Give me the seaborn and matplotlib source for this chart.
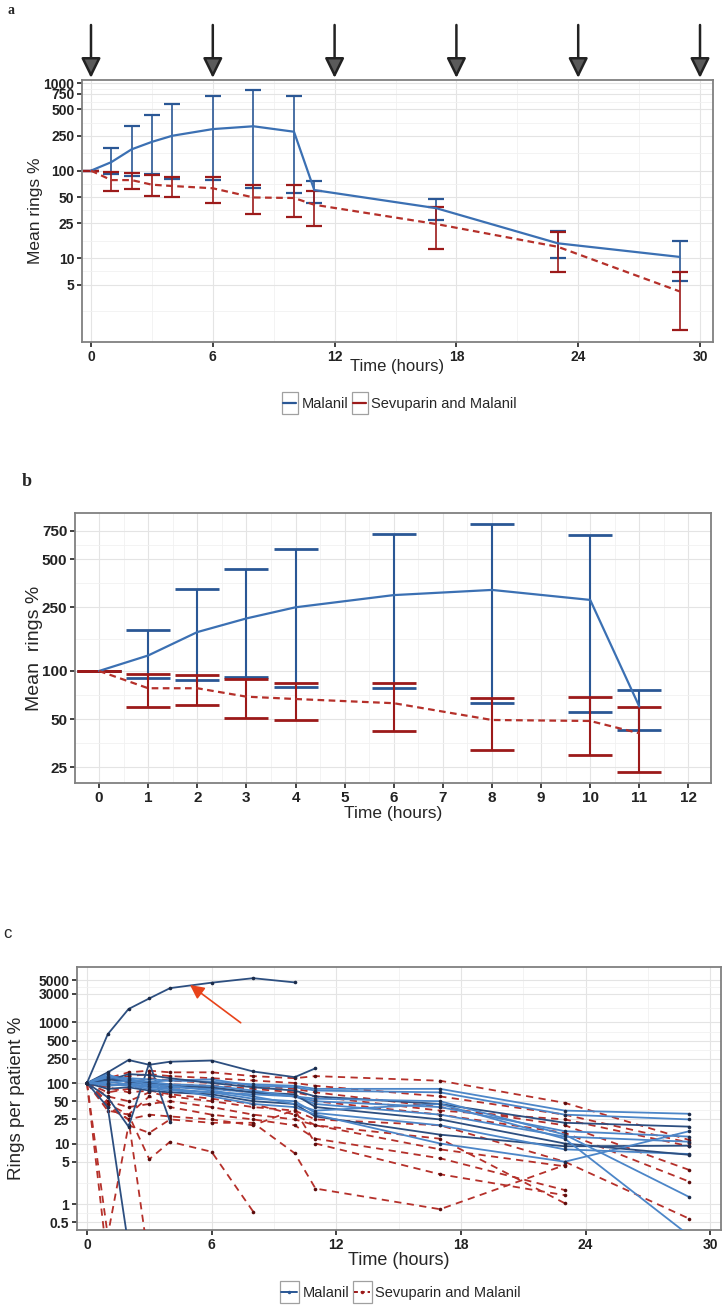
import matplotlib
matplotlib.use("Agg")
import matplotlib.pyplot as plt
from matplotlib import font_manager
from matplotlib.lines import Line2D
from matplotlib.patches import Rectangle
from matplotlib.legend_handler import HandlerLine2D
from matplotlib.ticker import NullFormatter
import numpy as np
import pandas as pd
import seaborn as sns

# sampling times (hours)
hours = [0, 1, 2, 3, 4, 6, 8, 10, 11, 17, 23, 29]

# mean rings % and error bar ends
malanil_mean = [100, 125, 175, 213, 250, 298, 321, 278, 60, 37.3, 14.8, 10.35]
malanil_lo = [100, 90.8, 87.9, 92.1, 79.4, 78, 62.9, 55.7, 42.8, 27.3, 10.1, 5.44]
malanil_hi = [100, 180, 324, 436, 576, 718, 826, 711, 76, 47.7, 20.6, 15.8]
sevu_mean = [100, 78, 78, 69.1, 66.8, 62.9, 49.4, 48.7, 40.8, 24.6, 13.5, 4.18]
sevu_lo = [100, 59.3, 61.3, 51.1, 49.4, 42.2, 32.1, 29.8, 23.5, 12.6, 6.9, 1.51]
sevu_hi = [100, 95.3, 94.4, 88.7, 84.5, 84.5, 68.1, 69.1, 59.3, 38.9, 20.0, 7.03]

# panel c: rings per patient %
malanil_patient_hours = [
    [0, 1, 2, 3, 4, 6, 8, 10],
    [0, 1, 2, 3, 4, 6, 8, 10, 11],
    [0, 1, 2, 3, 4],
    [0, 1, 2],
] + [hours] * 11
malanil_patient_values = [
    [100, 640, 1670, 2500, 3700, 4550, 5400, 4600],
    [100, 150, 240, 200, 225, 235, 155, 125, 175],
    [100, 58, 19, 215, 23],
    [100, 40, 0.2],
    [100, 130, 120, 115, 110, 105, 95, 90, 80, 80, 35, 31],
    [100, 120, 110, 105, 110, 115, 90, 85, 75, 70, 30, 25],
    [100, 110, 140, 135, 120, 100, 85, 75, 60, 45, 22, 19],
    [100, 140, 100, 95, 85, 80, 70, 60, 50, 40, 16, 13],
    [100, 90, 95, 85, 80, 70, 65, 60, 45, 30, 13, 10.7],
    [100, 80, 85, 75, 70, 65, 50, 45, 28, 14, 9, 9.2],
    [100, 105, 95, 90, 80, 60, 45, 40, 30, 10, 5, 16],
    [100, 95, 90, 80, 75, 70, 55, 50, 32, 20, 8, 6.7],
    [100, 115, 105, 100, 90, 85, 70, 65, 40, 25, 10, 6.5],
    [100, 125, 115, 105, 95, 90, 75, 60, 55, 50, 14, 1.3],
    [100, 100, 110, 95, 90, 75, 60, 45, 35, 45, 12, 0.3],
]
sevu_patient_hours = [
    hours, hours, hours, hours, hours, hours,
    hours[:11], hours[:11], hours[:11], hours[:11],
    [0, 1, 2, 3, 4, 6, 8],
    [0, 1],
    [0, 1, 2, 3],
    hours[:11],
]
sevu_patient_values = [
    [100, 120, 150, 160, 150, 150, 130, 120, 130, 109, 47, 11.4],
    [100, 110, 130, 140, 130, 120, 110, 100, 90, 60, 30, 10.3],
    [100, 90, 100, 120, 110, 100, 90, 80, 70, 40, 20, 3.65],
    [100, 70, 80, 90, 85, 80, 70, 60, 50, 30, 15, 2.34],
    [100, 60, 50, 70, 60, 50, 40, 35, 25, 20, 5, 0.57],
    [100, 130, 110, 100, 95, 90, 80, 70, 60, 35, 25, 9],
    [100, 50, 40, 45, 50, 40, 30, 25, 20, 8, 4.2],
    [100, 45, 30, 60, 40, 30, 25, 20, 12, 5.7, 1.7],
    [100, 40, 25, 30, 28, 25, 20, 36, 10, 3.1, 1.4],
    [100, 85, 70, 75, 65, 55, 45, 30, 20, 12, 1.03],
    [100, 35, 30, 5.5, 10.7, 7.3, 0.75],
    [100, 0.1],
    [100, 45, 25, 0.1],
    [100, 0.3, 20, 15, 25, 22, 22, 6.9, 1.8, 0.82, 4.4],
]

arrow_hours = [0, 6, 12, 18, 24, 30]
c_arrow_from = (7.4, 990)
c_arrow_to = (4.96, 4170)

yticks_a = [5, 10, 25, 50, 100, 250, 500, 750, 1000]
yticks_b = [25, 50, 100, 250, 500, 750]
yticks_c = [0.5, 1, 5, 10, 25, 50, 100, 250, 500, 1000, 3000, 5000]
ylabels_c = ['0.5', '1', '5', '10', '25', '50', '100', '250', '500', '1000', '3000', '5000']
xticks_a = [0, 6, 12, 18, 24, 30]
xticks_b = list(range(13))

groups = ['Malanil', 'Sevuparin and Malanil']

sns.set_theme(style="white")
names = {f.name for f in font_manager.fontManager.ttflist}
NARROW = 'Liberation Sans Narrow' if 'Liberation Sans Narrow' in names else 'Liberation Sans'
plt.rcParams['font.family'] = ['Liberation Sans', 'DejaVu Sans']

BLUE = '#3b70b3'
BLUE_BAR = '#2a5795'
RED = '#b5302a'
RED_BAR = '#9c1a1a'

W, H = 724, 1311
fig = plt.figure(figsize=(W / 100, H / 100), dpi=100)


def add_ax(l, t, r, b):
    return fig.add_axes([l / W, 1 - b / H, (r - l) / W, (b - t) / H])


ax_a = add_ax(82, 80, 713, 342)
ax_b = add_ax(75, 513, 711, 783)
ax_c = add_ax(77, 967, 721, 1230)


def style_axes(ax, yticks, ylabels, xticks, xminor, ylim, xlim, extra_minor=()):
    ax.set_yscale('log')
    ax.set_xlim(*xlim)
    ax.set_ylim(*ylim)
    ax.set_yticks(yticks, ylabels, fontsize=10, fontweight='bold', color='#222222')
    ax.set_xticks(xticks, [str(x) for x in xticks], fontsize=10, fontweight='bold', color='#222222')
    yt = np.array(yticks, dtype=float)
    ax.set_yticks(list(np.sqrt(yt[:-1] * yt[1:])) + list(extra_minor), minor=True)
    ax.yaxis.set_minor_formatter(NullFormatter())
    ax.set_xticks(xminor, minor=True)
    ax.tick_params(which='minor', length=0)
    ax.tick_params(which='major', length=3.5, width=1.3, color='#333333', direction='out', pad=2,
                   left=True, bottom=True)
    ax.grid(which='major', color='#e4e4e4', lw=0.8)
    ax.grid(which='minor', color='#f1f1f1', lw=0.6)
    ax.set_axisbelow(True)
    for sp in ax.spines.values():
        sp.set_visible(True)
        sp.set_color('#808080')
        sp.set_linewidth(1.3)
    ax.set_facecolor('white')


def draw_means(ax, max_hour, capsize, elw, clw):
    df = pd.DataFrame({
        'hours': hours * 2,
        'rings': malanil_mean + sevu_mean,
        'lo': malanil_lo + sevu_lo,
        'hi': malanil_hi + sevu_hi,
        'group': [groups[0]] * len(hours) + [groups[1]] * len(hours),
    })
    df = df[df['hours'] <= max_hour]
    for g, c in zip(groups, [BLUE_BAR, RED_BAR]):
        d = df[df['group'] == g]
        ax.errorbar(d['hours'], d['rings'], yerr=[d['rings'] - d['lo'], d['hi'] - d['rings']],
                    fmt='none', ecolor=c, elinewidth=elw, capsize=capsize, capthick=clw, zorder=3)
    sns.lineplot(data=df, x='hours', y='rings', hue='group', style='group',
                 palette={groups[0]: BLUE, groups[1]: RED},
                 dashes={groups[0]: '', groups[1]: (3, 2)},
                 lw=1.6, errorbar=None, legend=False, ax=ax, zorder=4)
    ax.set_xlabel('')
    ax.set_ylabel('')


class BoxedLine(HandlerLine2D):
    # ggplot-like key: line inside a small grey box
    def create_artists(self, legend, orig_handle, xdescent, ydescent, width, height, fontsize, trans):
        arts = super().create_artists(legend, orig_handle, xdescent, ydescent, width, height, fontsize, trans)
        box = Rectangle((-xdescent - 1, -ydescent - 4), width + 2, height + 8,
                        fc='white', ec='#a0a0a0', lw=0.9, transform=trans, zorder=0)
        return [box] + arts


# ---------------- panel a ----------------
style_axes(ax_a, yticks_a, [str(v) for v in yticks_a], xticks_a, [3, 9, 15, 21, 27],
           (1.106, 1083), (-0.443, 30.64), extra_minor=[2.5])
draw_means(ax_a, 30, 5.8, 1.2, 1.6)
ax_a.set_ylabel('Mean rings %', fontsize=12.5)
ax_a.yaxis.set_label_coords(-0.062, 0.5)
ax_a.set_xlabel('Time (hours)', fontsize=12)
ax_a.xaxis.set_label_coords(0.5, -0.066)
for h in arrow_hours:
    ax_a.annotate('', xy=(h, 1.008), xycoords=('data', 'axes fraction'),
                  xytext=(h, 1.21), textcoords=('data', 'axes fraction'),
                  arrowprops=dict(arrowstyle='-|>,head_length=0.55,head_width=0.27', mutation_scale=22,
                                  lw=1.8, ec='#222222', fc='#5a5a5a', shrinkA=0, shrinkB=0),
                  annotation_clip=False)

# ---------------- panel b ----------------
style_axes(ax_b, yticks_b, [str(v) for v in yticks_b], xticks_b, [x + 0.5 for x in range(12)],
           (19.95, 971), (-0.49, 12.46))
draw_means(ax_b, 11, 15.5, 1.5, 2.0)
ax_b.set_ylabel('Mean  rings %', fontsize=14)
ax_b.yaxis.set_label_coords(-0.050, 0.5)
ax_b.set_xlabel('Time (hours)', fontsize=12.5, family=[NARROW, 'DejaVu Sans'])
ax_b.xaxis.set_label_coords(0.5, -0.085)
ax_b.tick_params(labelsize=11)

# ---------------- panel c ----------------
style_axes(ax_c, yticks_c, ylabels_c, xticks_a, [3, 9, 15, 21, 27],
           (0.372, 8265), (-0.48, 30.52))
for hrs, vals in zip(sevu_patient_hours, sevu_patient_values):
    sns.lineplot(x=hrs, y=vals, ax=ax_c, color=RED, lw=1.3, linestyle=(0, (4, 3)),
                 marker='o', markersize=2.6, markeredgewidth=0, markerfacecolor='#5c0c0c',
                 errorbar=None, legend=False, zorder=3)
for i, (hrs, vals) in enumerate(zip(malanil_patient_hours, malanil_patient_values)):
    col = '#2d4f80' if i % 3 == 0 or i < 4 else '#4c86c8'
    sns.lineplot(x=hrs, y=vals, ax=ax_c, color=col, lw=1.3,
                 marker='o', markersize=2.6, markeredgewidth=0, markerfacecolor='#1c2c4a',
                 errorbar=None, legend=False, zorder=4)
ax_c.annotate('', xy=c_arrow_to, xytext=c_arrow_from,
              arrowprops=dict(arrowstyle='-|>,head_length=0.6,head_width=0.3', mutation_scale=14,
                              lw=1.2, color='#e8431a', shrinkA=0, shrinkB=0), zorder=6)
ax_c.set_ylabel('Rings per patient %', fontsize=13.5)
ax_c.yaxis.set_label_coords(-0.081, 0.5)
ax_c.set_xlabel('Time (hours)', fontsize=13, family=[NARROW, 'DejaVu Sans'])
ax_c.xaxis.set_label_coords(0.5, -0.084)

# legends
leg_font = {'family': [NARROW, 'DejaVu Sans'], 'size': 12 if NARROW != 'Liberation Sans' else 10.5}
h_a = [Line2D([], [], color=BLUE_BAR, lw=1.6), Line2D([], [], color=RED_BAR, lw=1.6)]
fig.legend(h_a, groups, loc='center', bbox_to_anchor=(400 / W, 1 - 404 / H), ncol=2, frameon=False,
           handlelength=0.9, handletextpad=0.35, columnspacing=0.35, prop=leg_font,
           handler_map={Line2D: BoxedLine()})
h_c = [Line2D([], [], color=BLUE_BAR, lw=1.4, marker='o', markersize=2.5, markeredgewidth=0),
       Line2D([], [], color=RED_BAR, lw=1.4, ls=(0, (2, 1.5)), marker='o', markersize=2.5, markeredgewidth=0)]
fig.legend(h_c, groups, loc='center', bbox_to_anchor=(401 / W, 1 - 1293 / H), ncol=2, frameon=False,
           handlelength=1.1, handletextpad=0.35, columnspacing=0.35, prop=leg_font,
           handler_map={Line2D: BoxedLine()})

# panel letters
fig.text(8 / W, 1 - 10 / H, 'a', family='Liberation Serif', weight='bold', fontsize=10, va='center')
fig.text(22 / W, 1 - 482 / H, 'b', family='Liberation Serif', weight='bold', fontsize=13, va='center')
fig.text(3 / W, 1 - 933 / H, 'c', fontsize=12, va='center')

fig.savefig('out.png', dpi=100, facecolor='white')
